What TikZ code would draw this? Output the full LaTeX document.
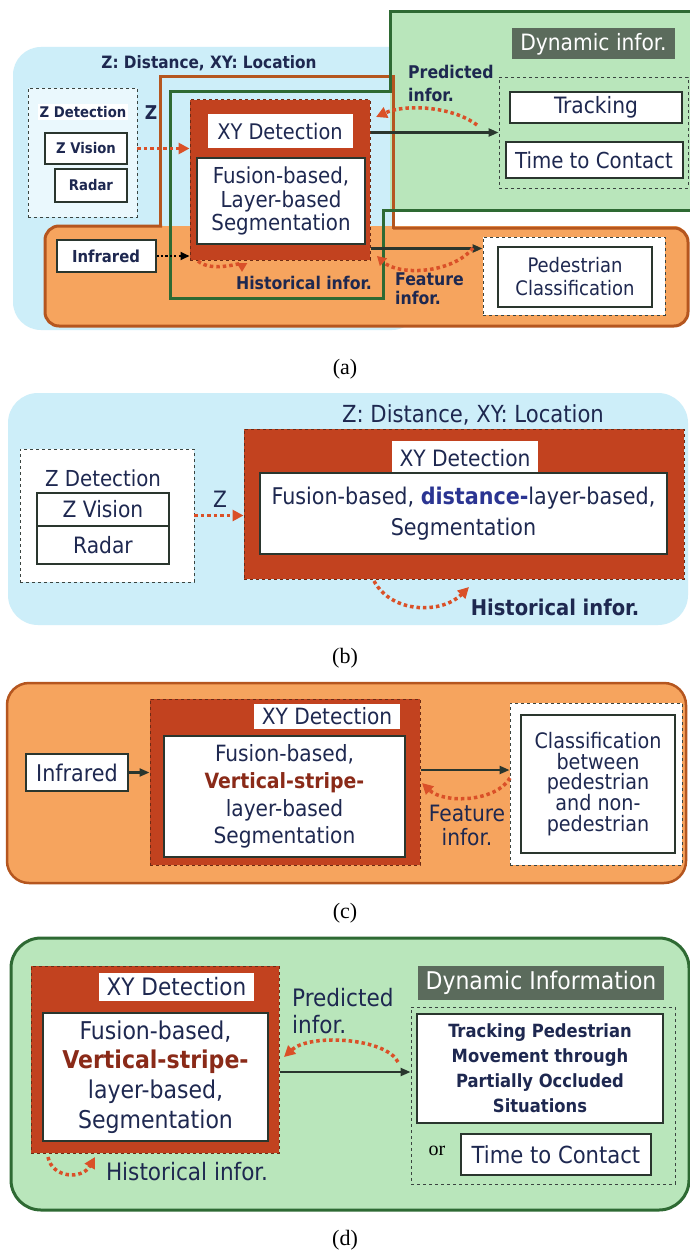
\documentclass[tikz,border=0pt]{standalone}
\usepackage{fontspec}
\setmainfont{DejaVu Sans Condensed}
\newfontfamily\capfont{Liberation Serif}
\usetikzlibrary{arrows.meta,calc}
\definecolor{bluebg}{HTML}{CDEEF9}
\definecolor{palebl}{HTML}{EAF8FD}
\definecolor{orf}{HTML}{F6A45E}
\definecolor{orline}{HTML}{B5561F}
\definecolor{grf}{HTML}{B9E6BB}
\definecolor{grline}{HTML}{2E6A33}
\definecolor{redf}{HTML}{C2421F}
\definecolor{reddk}{HTML}{6E2A14}
\definecolor{txt}{HTML}{1E2850}
\definecolor{boxl}{HTML}{2A362E}
\definecolor{dyng}{HTML}{5B6B5C}
\definecolor{dotred}{HTML}{DA5028}
\definecolor{distbl}{HTML}{2B3592}
\definecolor{vsred}{HTML}{8A2A18}
\definecolor{dashc}{HTML}{3A4440}
\begin{document}
\begin{tikzpicture}[x=1pt,y=-1pt,
  every node/.style={text=txt, inner sep=0pt},
  wbox/.style={draw=boxl, line width=2pt, fill=white, align=center},
  dbox/.style={draw=dashc, dashed, line width=0.9pt},
  redbox/.style={draw=reddk, dashed, line width=1pt, fill=redf},
  wlabel/.style={fill=white},
  dlabel/.style={fill=dyng, text=white},
  reddot/.style={draw=dotred, line width=3.5pt, dash pattern=on 3.5pt off 3pt, -{Triangle[length=11pt,width=11pt]}},
  blkarrow/.style={draw=boxl, line width=2.2pt, -{Triangle[length=10pt,width=8pt]}},
  blkdot/.style={draw=black, line width=2.2pt, dash pattern=on 2.2pt off 2.2pt, -{Triangle[length=9pt,width=8pt]}},
  capt/.style={font=\capfont\fontsize{22}{24}\selectfont, text=black},
]
\useasboundingbox (0,0) rectangle (690,1260);
\fill[white] (0,0) rectangle (690,1260);
% ================= (a) =================
\fill[bluebg, rounded corners=28] (13,47) rectangle (420,330);
\fill[orf, rounded corners=14] (45,226) rectangle (688,326);
\fill[grf] (390,12) rectangle (692,210);
\fill[white] (395,212) rectangle (688,226);
\draw[orline, line width=3pt, rounded corners=14] (393,228) -- (688,228) -- (688,326) -- (45,326) -- (45,226) -- (162,226);
\draw[orline, line width=3pt] (160,226) -- (160,77) -- (393,77) -- (393,229);
\draw[grline, line width=3pt] (692,12) -- (390,12) -- (390,92) -- (170,92) -- (170,298) -- (383,298) -- (383,210) -- (692,210);
\node[font=\bfseries\fontsize{17}{19}\selectfont] (zdlA) at (209,63) {Z: Distance, XY: Location};
\node[dbox, fill=palebl, minimum width=109, minimum height=129] (zdetA) at (82.5,152.5) {};
\node[wlabel, inner sep=2pt, font=\bfseries\fontsize{14.7}{16}\selectfont] (zdetlA) at (83,112) {Z Detection};
\node[wbox, minimum width=82, minimum height=31, font=\bfseries\fontsize{14.7}{16}\selectfont] (zvisA) at (86,148.5) {Z Vision};
\node[wbox, minimum width=72, minimum height=33, font=\bfseries\fontsize{14.7}{16}\selectfont] (radarA) at (91,185.5) {Radar};
\node[font=\bfseries\fontsize{19}{21}\selectfont] (zA) at (151,113) {Z};
\node[redbox, minimum width=180, minimum height=160] (xyA) at (280,180) {};
\node[wlabel, minimum width=145, minimum height=34, font=\fontsize{21.5}{23}\selectfont] (xylA) at (280,131) {XY Detection};
\node[wbox, line width=1.5pt, minimum width=168, minimum height=86, font=\fontsize{22}{23.5}\selectfont] (segA) at (281,201) {Fusion-based,\\Layer-based\\Segmentation};
\node[wbox, minimum width=99, minimum height=32, font=\bfseries\fontsize{16.5}{18}\selectfont] (irA) at (106,256) {Infrared};
\draw[blkdot] (irA.east) -- (irA.east -| xyA.west);
\draw[reddot] (zdetA.east |- zvisA.east) -- (zvisA.east -| xyA.west);
\node[dbox, minimum width=189, minimum height=111] (dynA) at (593.5,132.5) {};
\node[dlabel, minimum width=163, minimum height=31, font=\fontsize{22.5}{24}\selectfont] (dynlA) at (593.5,44) {Dynamic infor.};
\node[wbox, minimum width=172, minimum height=31, font=\fontsize{22.5}{24}\selectfont] (trA) at (596,107.5) {Tracking};
\node[wbox, minimum width=177, minimum height=36, font=\fontsize{22}{24}\selectfont] (ttcA) at (594,160) {Time to Contact};
\node[anchor=north west, align=left, font=\bfseries\fontsize{17.5}{23}\selectfont] (predA) at (408,65) {Predicted\\infor.};
\draw[blkarrow] (xyA.east |- dynA.west) -- (dynA.west);
\node[dbox, fill=white, minimum width=182, minimum height=78] (pedbA) at (574,276) {};
\node[wbox, minimum width=154, minimum height=60, font=\fontsize{20}{23}\selectfont] (pedA) at (575,277) {Pedestrian\\Classification};
\coordinate (lowA) at ($(xyA.south east)+(0,-12)$);
\draw[blkarrow] (lowA) -- (lowA -| pedbA.west);
\coordinate (pA1) at (477,125);
\coordinate (pA2) at (376,117);
\draw[reddot] (pA1) .. controls (452,106) and (405,104) .. (pA2);
\coordinate (hA1) at (198,261);
\coordinate (hA2) at (242,272);
\draw[reddot, -{Triangle[length=9pt,width=10pt]}] (hA1) .. controls (212,273) and (242,262) .. (hA2);
\coordinate (fA1) at (473,248);
\coordinate (fA2) at (377,256);
\draw[reddot, -{Triangle[length=9pt,width=10pt]}] (fA1) .. controls (452,274) and (398,276) .. (fA2);
\node[font=\bfseries\fontsize{17.5}{19}\selectfont] (histA) at (304,283) {Historical infor.};
\node[anchor=north west, align=left, font=\bfseries\fontsize{17.5}{19}\selectfont] (featA) at (395,273) {Feature\\infor.};
\node[capt] (capA) at (345,369) {(a)};
% ================= (b) =================
\fill[bluebg, rounded corners=30] (8,393) rectangle (688,625);
\node[dbox, fill=white, minimum width=174, minimum height=133] (zdetB) at (107,515.5) {};
\node[font=\fontsize{22}{24}\selectfont] (zdetlB) at (103,478) {Z Detection};
\node[wbox, minimum width=132, minimum height=33, font=\fontsize{22.5}{24}\selectfont] (zvisB) at (103,509.5) {Z Vision};
\node[wbox, minimum width=132, minimum height=38, font=\fontsize{22.5}{24}\selectfont] (radarB) at (103,545) {Radar};
\node[font=\fontsize{22.5}{24}\selectfont] (zB) at (220,499) {Z};
\node[font=\fontsize{23.5}{25}\selectfont] (zdlB) at (473,415) {Z: Distance, XY: Location};
\node[redbox, minimum width=440, minimum height=150] (xyB) at (464,504) {};
\draw[reddot] (zdetB.east) -- (zdetB.east -| xyB.west);
\node[wlabel, minimum width=146, minimum height=35, font=\fontsize{22.5}{24}\selectfont] (xylB) at (465,458) {XY Detection};
\node[wbox, minimum width=407, minimum height=81, font=\fontsize{23}{31}\selectfont] (segB) at (463.5,513.5) {Fusion-based, \textcolor{distbl}{\bfseries distance-}layer-based,\\Segmentation};
\coordinate (hB1) at (374,581);
\coordinate (hB2) at (469,587);
\draw[reddot] (hB1) .. controls (392,614) and (442,614) .. (hB2);
\node[font=\bfseries\fontsize{21.7}{23}\selectfont] (histB) at (555,607) {Historical infor.};
\node[capt] (capB) at (345,658) {(b)};
% ================= (c) =================
\draw[orline, fill=orf, line width=2.5pt, rounded corners=22] (7,683) rectangle (686,883);
\node[wbox, minimum width=102, minimum height=37, font=\fontsize{23}{24}\selectfont] (irC) at (77,772.5) {Infrared};
\node[redbox, minimum width=270, minimum height=166] (xyC) at (285,782) {};
\draw[blkarrow] (irC.east) -- (irC.east -| xyC.west);
\node[wlabel, minimum width=146, minimum height=25, font=\fontsize{22.4}{24}\selectfont] (xylC) at (327,716.5) {XY Detection};
\node[wbox, minimum width=241, minimum height=121, font=\fontsize{22.4}{27.5}\selectfont] (segC) at (284.5,796.5) {Fusion-based,\\{\fontsize{21}{27.5}\selectfont\textcolor{vsred}{\bfseries Vertical-stripe-}}\\layer-based\\Segmentation};
\node[dbox, fill=white, minimum width=172, minimum height=162] (clbC) at (596,784) {};
\node[wbox, minimum width=154, minimum height=138, font=\fontsize{21.3}{20.7}\selectfont] (clC) at (598,784) {Classification\\between\\pedestrian\\and non-\\pedestrian};
\coordinate (aC) at ($(xyC.east)+(0,-12)$);
\draw[blkarrow] (aC) -- (aC -| clbC.west);
\coordinate (fC1) at (510,778);
\coordinate (fC2) at (422,783);
\draw[reddot] (fC1) .. controls (496,802) and (444,804) .. (fC2);
\node[align=center, font=\fontsize{22.5}{24}\selectfont] (featC) at (467,825) {Feature\\infor.};
\node[capt] (capC) at (345,913) {(c)};
% ================= (d) =================
\draw[grline, fill=grf, line width=3pt, rounded corners=30] (11,938) rectangle (689,1210);
\node[redbox, minimum width=248, minimum height=187] (xyD) at (155,1059.5) {};
\node[wlabel, minimum width=155, minimum height=28, font=\fontsize{24}{26}\selectfont] (xylD) at (176.5,987) {XY Detection};
\node[wbox, minimum width=225, minimum height=128, font=\fontsize{24.5}{29.7}\selectfont] (segD) at (155.5,1077) {Fusion-based,\\\textcolor{vsred}{\bfseries Vertical-stripe-}\\layer-based,\\Segmentation};
\node[dlabel, minimum width=246, minimum height=34, font=\fontsize{24.4}{26}\selectfont] (dynD) at (541,983) {Dynamic Information};
\node[dbox, minimum width=264, minimum height=177] (dashD) at (543,1095.5) {};
\node[wbox, minimum width=246, minimum height=109, font=\bfseries\fontsize{18.2}{25}\selectfont] (trD) at (540,1068.5) {Tracking Pedestrian\\Movement through\\Partially Occluded\\Situations};
\node[font=\capfont\fontsize{20}{22}\selectfont, text=black] (orD) at (437,1151) {or};
\node[wbox, minimum width=190, minimum height=41, font=\fontsize{23.5}{25}\selectfont] (ttcD) at (556,1154.5) {Time to Contact};
\coordinate (aD) at ($(xyD.east)+(0,12.5)$);
\draw[blkarrow] (aD) -- (aD -| dashD.west);
\node[anchor=north west, align=left, font=\fontsize{24}{27}\selectfont] (predD) at (292,988) {Predicted\\infor.};
\coordinate (pD1) at (398,1062);
\coordinate (pD2) at (284,1057);
\draw[reddot] (pD1) .. controls (386,1038) and (310,1033) .. (pD2);
\coordinate (hD1) at (48,1157);
\coordinate (hD2) at (95,1157);
\draw[reddot] (hD1) .. controls (52,1178) and (82,1180) .. (hD2);
\node[font=\fontsize{24}{26}\selectfont] (histD) at (187,1172) {Historical infor.};
\node[capt] (capD) at (345,1240) {(d)};
\end{tikzpicture}
\end{document}
